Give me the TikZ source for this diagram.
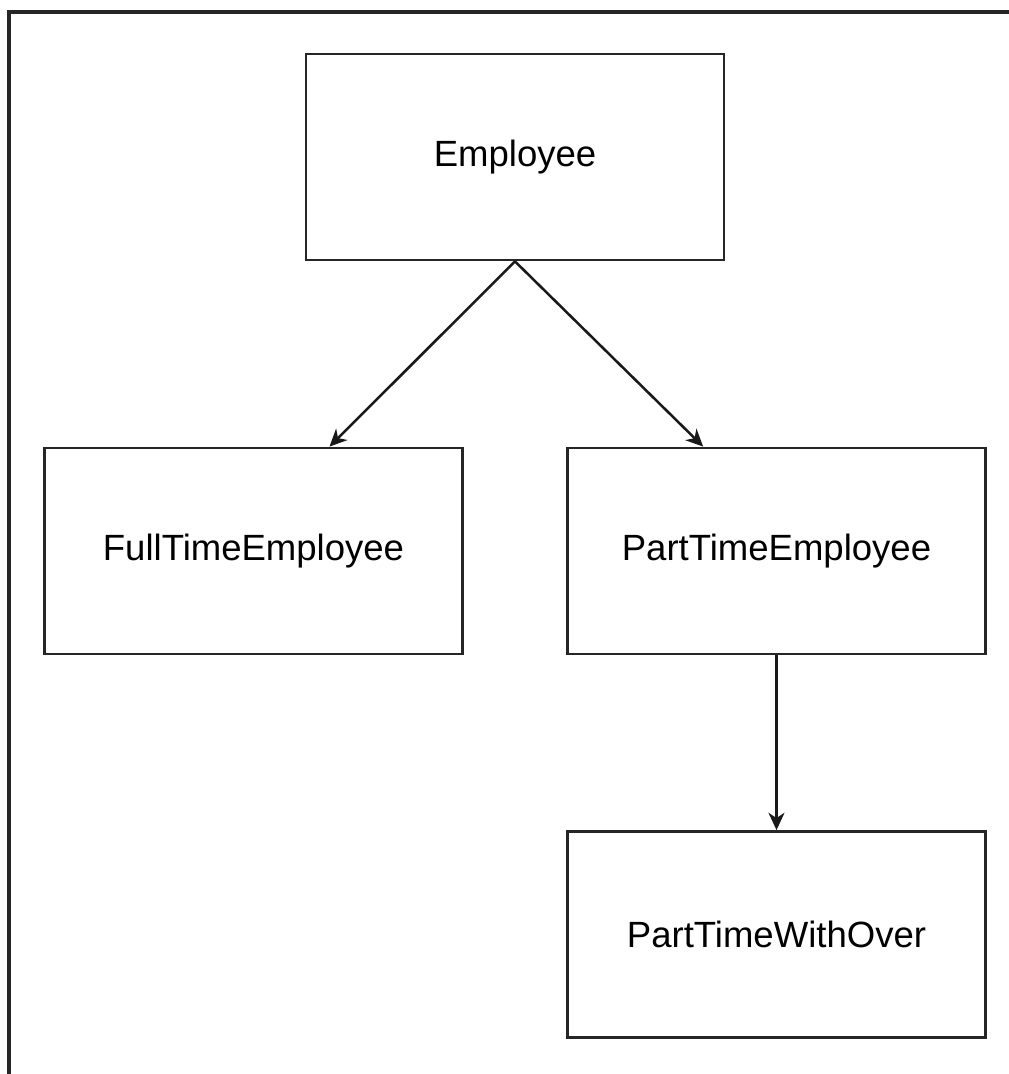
\documentclass[tikz,border=0pt]{standalone}
\usepackage{fontspec}
\setmainfont{Liberation Sans}
\usetikzlibrary{arrows.meta,positioning}

\tikzset{
  classbox/.style={draw=black!85, line width=2.1pt, fill=white, minimum width=313.5pt, minimum height=154.5pt, inner sep=0pt, font=\fontsize{27.4}{33}\selectfont},
  inherit/.style={draw=black!90, line width=1.9pt, -{Stealth[length=13pt,width=12pt,inset=4pt]}}
}

\begin{document}
\begin{tikzpicture}[x=0.75pt, y=-0.75pt]
  \useasboundingbox (0,0) rectangle (1008,1074);
  \draw[black!85, line width=2.6pt] (9,1090) -- (9,12) -- (1030,12);

  \node[classbox] (emp) at (515,157) {Employee};
  \node[classbox] (full) at (253.5,551) {FullTimeEmployee};
  \node[classbox] (part) at (776.5,551) {PartTimeEmployee};
  \node[classbox] (over) at (776.5,934.5) {PartTimeWithOver};

  \draw[inherit] (emp.south) -- ([xshift=57pt]full.north);
  \draw[inherit] (emp.south) -- ([xshift=-55pt]part.north);
  \draw[inherit] (part.south) -- (over.north);
\end{tikzpicture}
\end{document}
